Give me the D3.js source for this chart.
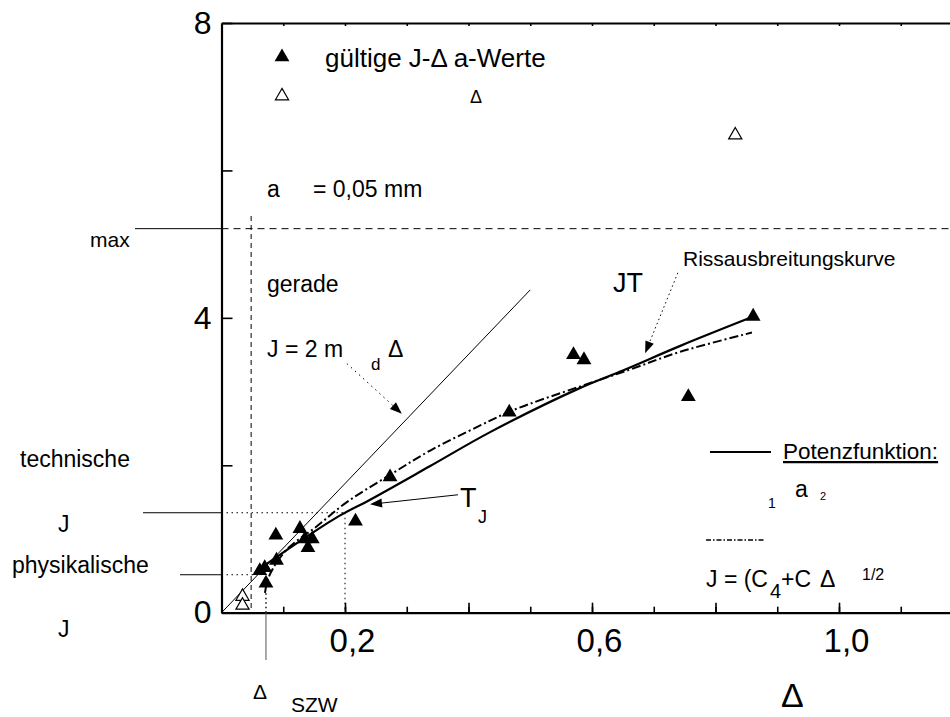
<!DOCTYPE html>
<html>
<head>
<meta charset="utf-8">
<script src="https://cdn.jsdelivr.net/npm/d3@7"></script>
<style>
  body { margin: 0; background: #fff; }
  svg text { font-family: "Liberation Sans", Arial, Helvetica, sans-serif; fill: #000; }
</style>
</head>
<body>
<svg id="chart" width="950" height="717"></svg>
<script>
// Crack extension Δa (mm) and J values
const validPoints = [
  [0.861, 4.02], [0.570, 3.50], [0.587, 3.43], [0.756, 2.93], [0.466, 2.72],
  [0.273, 1.84], [0.217, 1.24], [0.088, 1.05], [0.127, 1.14], [0.135, 1.00],
  [0.147, 1.00], [0.140, 0.88], [0.089, 0.71], [0.062, 0.57], [0.070, 0.61],
  [0.072, 0.40]
];
const invalidPoints = [[0.034, 0.22], [0.034, 0.10], [0.832, 6.48]];

// Fitted crack resistance curves, sampled
const powerCurve = [
  [0.061, 0.59], [0.127, 0.97], [0.190, 1.31], [0.240, 1.53], [0.338, 1.99],
  [0.435, 2.45], [0.581, 3.05], [0.651, 3.29], [0.743, 3.62], [0.853, 3.99]
];
const sqrtCurve = [
  [0.0704, 0.27], [0.074, 0.42], [0.082, 0.58], [0.106, 0.86], [0.154, 1.17],
  [0.203, 1.50], [0.273, 1.87], [0.338, 2.20], [0.419, 2.54], [0.473, 2.75],
  [0.581, 3.07], [0.662, 3.30], [0.743, 3.54], [0.859, 3.80]
];
// Blunting line J = 2 m σ Δa
const bluntingLine = [[0, 0], [0.5, 4.38]];

// Characteristic values
const jMax = 5.21;
const deltaAMin = 0.048;
const deltaATech = 0.2, jTech = 1.356;
const deltaASzw = 0.072, jPhys = 0.515;

// Axis ticks
const xMinorTicks = d3.range(1, 12).map(i => i / 10);
const xMajorTicks = [0.2, 0.4, 0.6, 0.8, 1.0];
const xLabelled = { 0.2: "0,2", 0.6: "0,6", 1.0: "1,0" };
const yTicks = [0, 2, 4, 6, 8];
const yLabelled = { 0: "0", 4: "4", 8: "8" };

const svg = d3.select("#chart");
const x = d3.scaleLinear().domain([0, 1.2]).range([221.5, 962.5]);
const y = d3.scaleLinear().domain([0, 8]).range([612.7, 23]);

// ---- axes ----
function styleAxis(g, width, size) {
  g.select(".domain").attr("stroke", "#000").attr("stroke-width", width);
  g.selectAll(".tick line").attr("stroke", "#000").attr("stroke-width", 1.6);
  g.selectAll("text").attr("font-size", size).attr("fill", "#000")
    .attr("font-family", '"Liberation Sans", Arial, sans-serif');
}
svg.append("g").attr("transform", `translate(0,${y(0)})`)
  .call(d3.axisBottom(x).tickValues(xMinorTicks).tickSizeInner(-6).tickSizeOuter(0).tickFormat(""))
  .call(g => styleAxis(g, 2.2, 33));
svg.append("g").attr("transform", `translate(0,${y(0)})`)
  .call(d3.axisBottom(x).tickValues(xMajorTicks).tickSizeInner(-10).tickSizeOuter(0)
    .tickPadding(16).tickFormat(d => xLabelled[d] || ""))
  .call(g => { styleAxis(g, 2.2, 33); g.select(".domain").remove(); g.selectAll("text").attr("dx", 7); });
svg.append("g").attr("transform", `translate(0,${y(8)})`)
  .call(d3.axisTop(x).tickValues(xMinorTicks).tickSizeInner(-3).tickSizeOuter(0).tickFormat(""))
  .call(g => styleAxis(g, 2.2, 33));
svg.append("g").attr("transform", `translate(${x(0)},0)`)
  .call(d3.axisLeft(y).tickValues(yTicks).tickSizeInner(-11).tickSizeOuter(0)
    .tickPadding(10).tickFormat(d => yLabelled[d] || ""))
  .call(g => styleAxis(g, 2.2, 32));

// ---- reference lines ----
const plot = svg.append("g");
function seg(x1, y1, x2, y2, attrs) {
  const l = plot.append("line").attr("x1", x1).attr("y1", y1).attr("x2", x2).attr("y2", y2)
    .attr("stroke", "#000").attr("stroke-width", 1);
  Object.entries(attrs || {}).forEach(([k, v]) => l.attr(k, v));
  return l;
}
// J_max
seg(x(0), y(jMax), 950, y(jMax), { "stroke-dasharray": "7,5" });
seg(135, y(jMax), x(0), y(jMax));
// Δa limit
seg(x(deltaAMin), 216, x(deltaAMin), y(0), { "stroke-dasharray": "5,4" });
// technical initiation value
seg(143, y(jTech), x(0), y(jTech));
seg(x(0), y(jTech), x(deltaATech), y(jTech), { "stroke-dasharray": "1.5,3.5" });
seg(x(deltaATech), y(jTech), x(deltaATech), y(0), { "stroke-dasharray": "1.5,3.5" });
// physical initiation value
seg(180, y(jPhys), x(0), y(jPhys));
seg(x(0), y(jPhys), x(deltaASzw) - 4, y(jPhys), { "stroke-dasharray": "1.5,3.5" });
// stretch zone width
seg(x(deltaASzw), y(0), x(deltaASzw), y(sqrtCurve[0][1]), { "stroke-dasharray": "1.5,3", "stroke-width": 1.4 });
seg(x(deltaASzw), y(0), x(deltaASzw), 660, { stroke: "#555" });

// ---- curves ----
const line = d3.line().x(d => x(d[0])).y(d => y(d[1]));
plot.append("path").datum(bluntingLine).attr("d", line)
  .attr("fill", "none").attr("stroke", "#000").attr("stroke-width", 1);
plot.append("path").datum(powerCurve).attr("d", line.curve(d3.curveCatmullRom))
  .attr("fill", "none").attr("stroke", "#000").attr("stroke-width", 2.2);
plot.append("path").datum(sqrtCurve).attr("d", line.curve(d3.curveCatmullRom))
  .attr("fill", "none").attr("stroke", "#000").attr("stroke-width", 2)
  .attr("stroke-dasharray", "9,3,2,3");

// ---- markers ----
const tri = d3.symbol().type(d3.symbolTriangle).size(95);
plot.selectAll(".valid").data(validPoints).join("path")
  .attr("d", tri).attr("transform", d => `translate(${x(d[0])},${y(d[1])})`)
  .attr("fill", "#000");
const triOpen = d3.symbol().type(d3.symbolTriangle).size(75);
plot.selectAll(".invalid").data(invalidPoints).join("path")
  .attr("d", triOpen).attr("transform", d => `translate(${x(d[0])},${y(d[1])})`)
  .attr("fill", "#fff").attr("stroke", "#000").attr("stroke-width", 1.2);

// ---- arrows ----
function arrow(p0, p1, dash) {
  const x0 = x(p0[0]), y0 = y(p0[1]), x1 = x(p1[0]), y1 = y(p1[1]);
  const a = Math.atan2(y1 - y0, x1 - x0), L = 12, W = 4.5;
  const bx = x1 - L * Math.cos(a), by = y1 - L * Math.sin(a);
  seg(x0, y0, bx, by, dash ? { "stroke-dasharray": dash } : {});
  plot.append("path")
    .attr("d", `M${x1},${y1}L${bx - W * Math.sin(a)},${by + W * Math.cos(a)}L${bx + W * Math.sin(a)},${by - W * Math.cos(a)}Z`)
    .attr("fill", "#000");
}
arrow([0.203, 3.38], [0.292, 2.70], "1.5,4");
arrow([0.739, 4.61], [0.686, 3.52], "1.5,3");
arrow([0.383, 1.60], [0.2405, 1.47], null);

// ---- text ----
function text(px, py, str, size, extra) {
  const t = svg.append("text").attr("x", px).attr("y", py).attr("font-size", size).text(str);
  Object.entries(extra || {}).forEach(([k, v]) => t.attr(k, v));
  return t;
}
// legend of markers
svg.append("path").attr("d", tri).attr("transform", "translate(282,57)").attr("fill", "#000");
svg.append("path").attr("d", triOpen).attr("transform", "translate(282,96)")
  .attr("fill", "#fff").attr("stroke", "#000").attr("stroke-width", 1.2);
text(325, 67, "gültige J-Δ a-Werte", 26);
text(470, 103, "Δ", 18);

text(267, 197, "a", 23);
text(313, 197, "= 0,05 mm", 23);
text(90, 247, "max", 21);
text(267, 292, "gerade", 23);
text(267, 357, "J = 2 m", 23);
text(371, 370, "d", 17);
text(388, 357, "Δ", 23);
text(683, 266, "Rissausbreitungskurve", 21);
text(613, 292, "JT", 27);
text(460, 507, "T", 27);
text(478, 523, "J", 18);

text(20, 467, "technische", 23);
text(58, 532, "J", 23);
text(12, 573, "physikalische", 23);
text(58, 637, "J", 23);
text(253, 699, "Δ", 21);
text(291, 712, "SZW", 21);
text(781, 707, "Δ", 34, { "font-family": '"Liberation Serif", "Times New Roman", serif' });

// legend of curves
seg(710, 452, 771, 452, { "stroke-width": 2 });
text(783, 459, "Potenzfunktion:", 22.5, { "text-decoration": "underline" });
text(768, 508, "1", 14);
text(795, 497, "a", 23);
text(820, 500, "2", 11);
seg(706, 540, 765, 540, { "stroke-width": 1.6, "stroke-dasharray": "5,2,1.5,2" });
text(706, 587, "J = (C", 23);
text(770, 598, "4", 20);
text(781, 587, "+C", 23);
text(820, 587, "Δ", 23);
text(862, 580, "1/2", 16);
</script>
</body>
</html>
